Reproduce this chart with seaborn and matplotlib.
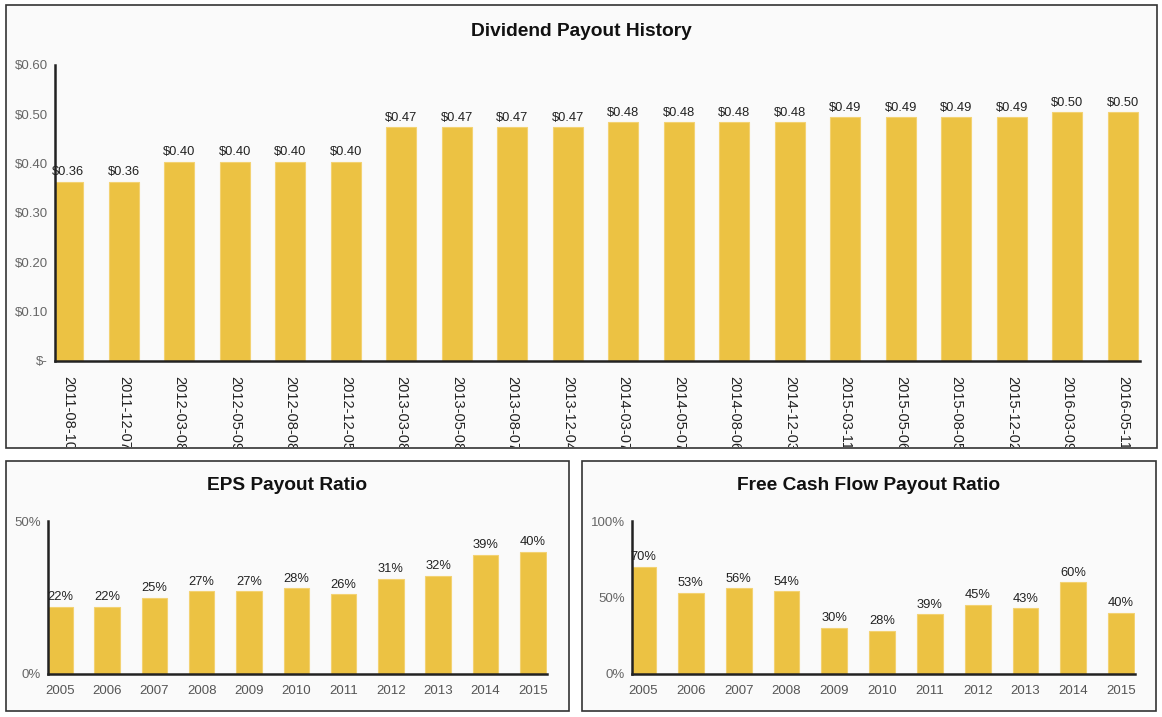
import numpy as np
import pandas as pd
import seaborn as sns
import matplotlib.pyplot as plt
from matplotlib.patches import Rectangle
from matplotlib.transforms import Bbox, TransformedBbox

# dividend history
div_dates = ['2011-08-10', '2011-12-07', '2012-03-08', '2012-05-09', '2012-08-08',
             '2012-12-05', '2013-03-08', '2013-05-08', '2013-08-07', '2013-12-04',
             '2014-03-07', '2014-05-07', '2014-08-06', '2014-12-03', '2015-03-11',
             '2015-05-06', '2015-08-05', '2015-12-02', '2016-03-09', '2016-05-11']
div_amounts = [0.363, 0.363, 0.404, 0.404, 0.404, 0.404, 0.474, 0.474, 0.474, 0.474,
               0.484, 0.484, 0.484, 0.484, 0.494, 0.494, 0.494, 0.494, 0.504, 0.504]

# payout ratios
years = ['2005', '2006', '2007', '2008', '2009', '2010', '2011', '2012', '2013', '2014', '2015']
eps_ratio = [22, 22, 25, 27, 27, 28, 26, 31, 32, 39, 40]
fcf_ratio = [70, 53, 56, 54, 30, 28, 39, 45, 43, 60, 40]

BAR = '#ECC243'
W, H = 1162, 717

sns.set_style('white')
plt.rcParams['font.family'] = ['Liberation Sans', 'DejaVu Sans']

fig = plt.figure(figsize=(W / 100, H / 100), dpi=100)
fig.patch.set_facecolor('white')


def px_rect(x0, y0, x1, y1):
    # pixel box (top-left origin) -> figure fraction rect
    return [x0 / W, 1 - y1 / H, (x1 - x0) / W, (y1 - y0) / H]


def panel(x0, y0, x1, y1):
    l, b, w, h = px_rect(x0, y0, x1, y1)
    r = Rectangle((l, b), w, h, transform=fig.transFigure, facecolor='#fafafa',
                  edgecolor='#333333', linewidth=1.2, zorder=-10)
    fig.patches.append(r)
    return r


def style_ax(ax):
    ax.set_facecolor('none')
    for s in ['top', 'right']:
        ax.spines[s].set_visible(False)
    for s in ['left', 'bottom']:
        ax.spines[s].set_color('#222222')
        ax.spines[s].set_linewidth(1.8)
    ax.set_xlabel('')
    ax.set_ylabel('')
    ax.tick_params(axis='both', length=0, labelsize=9.5, labelcolor='#666666', pad=5)


panel(6, 5, 1157, 448)
panel(6, 461, 569, 711)
panel(582, 461, 1156, 711)

# top chart
ax1 = fig.add_axes(px_rect(55, 65, 1140, 361))
df1 = pd.DataFrame({'date': div_dates, 'amount': div_amounts})
sns.barplot(data=df1, x='date', y='amount', color=BAR, width=0.54, saturation=1,
            edgecolor='#f3d272', linewidth=0.8, ax=ax1)
style_ax(ax1)
ax1.set_ylim(0, 0.6)
ax1.set_xlim(-0.24, 19.31)
yt = [0, 0.1, 0.2, 0.3, 0.4, 0.5, 0.6]
ax1.set_yticks(yt, ['$-'] + ['$%.2f' % v for v in yt[1:]])
ax1.set_xticks(range(len(div_dates)), div_dates)
clip = TransformedBbox(Bbox.from_extents(6 / W, 1 - 447 / H, 1157 / W, 1 - 5 / H), fig.transFigure)
for t in ax1.get_xticklabels():
    t.set_rotation(270)
    t.set_fontsize(10.5)
    t.set_color('#222222')
    t.set_va('top')
    t.set_ha('center')
    t.set_clip_on(True)
    t.set_clip_box(clip)
ax1.tick_params(axis='x', pad=11)
for i, v in enumerate(div_amounts):
    ax1.text(i, v + 0.007, '$%.2f' % v, ha='center', va='bottom', fontsize=9.3, color='#222222')
fig.text(581 / W, 1 - 31 / H, 'Dividend Payout History', ha='center', va='center',
         fontsize=13.8, fontweight='bold', color='#111111')

# EPS payout ratio
ax2 = fig.add_axes(px_rect(48, 521, 547, 674))
df2 = pd.DataFrame({'year': years, 'ratio': eps_ratio})
sns.barplot(data=df2, x='year', y='ratio', color=BAR, width=0.54, saturation=1,
            edgecolor='#f3d272', linewidth=0.8, ax=ax2)
style_ax(ax2)
ax2.set_ylim(0, 50)
ax2.set_xlim(-0.25, 10.3)
ax2.set_yticks([0, 50], ['0%', '50%'])
ax2.tick_params(axis='x', labelcolor='#555555', labelsize=9.5, pad=8)
for i, v in enumerate(eps_ratio):
    ax2.text(i, v + 1.2, '%d%%' % v, ha='center', va='bottom', fontsize=9.3, color='#222222')
fig.text(287 / W, 1 - 486 / H, 'EPS Payout Ratio', ha='center', va='center',
         fontsize=13.8, fontweight='bold', color='#111111')

# FCF payout ratio
ax3 = fig.add_axes(px_rect(632, 521, 1135, 674))
df3 = pd.DataFrame({'year': years, 'ratio': fcf_ratio})
sns.barplot(data=df3, x='year', y='ratio', color=BAR, width=0.54, saturation=1,
            edgecolor='#f3d272', linewidth=0.8, ax=ax3)
style_ax(ax3)
ax3.set_ylim(0, 100)
ax3.set_xlim(-0.23, 10.29)
ax3.set_yticks([0, 50, 100], ['0%', '50%', '100%'])
ax3.tick_params(axis='x', labelcolor='#555555', labelsize=9.5, pad=8)
for i, v in enumerate(fcf_ratio):
    ax3.text(i, v + 2.4, '%d%%' % v, ha='center', va='bottom', fontsize=9.3, color='#222222')
fig.text(869 / W, 1 - 486 / H, 'Free Cash Flow Payout Ratio', ha='center', va='center',
         fontsize=13.8, fontweight='bold', color='#111111')

fig.savefig('out.png', dpi=100)
